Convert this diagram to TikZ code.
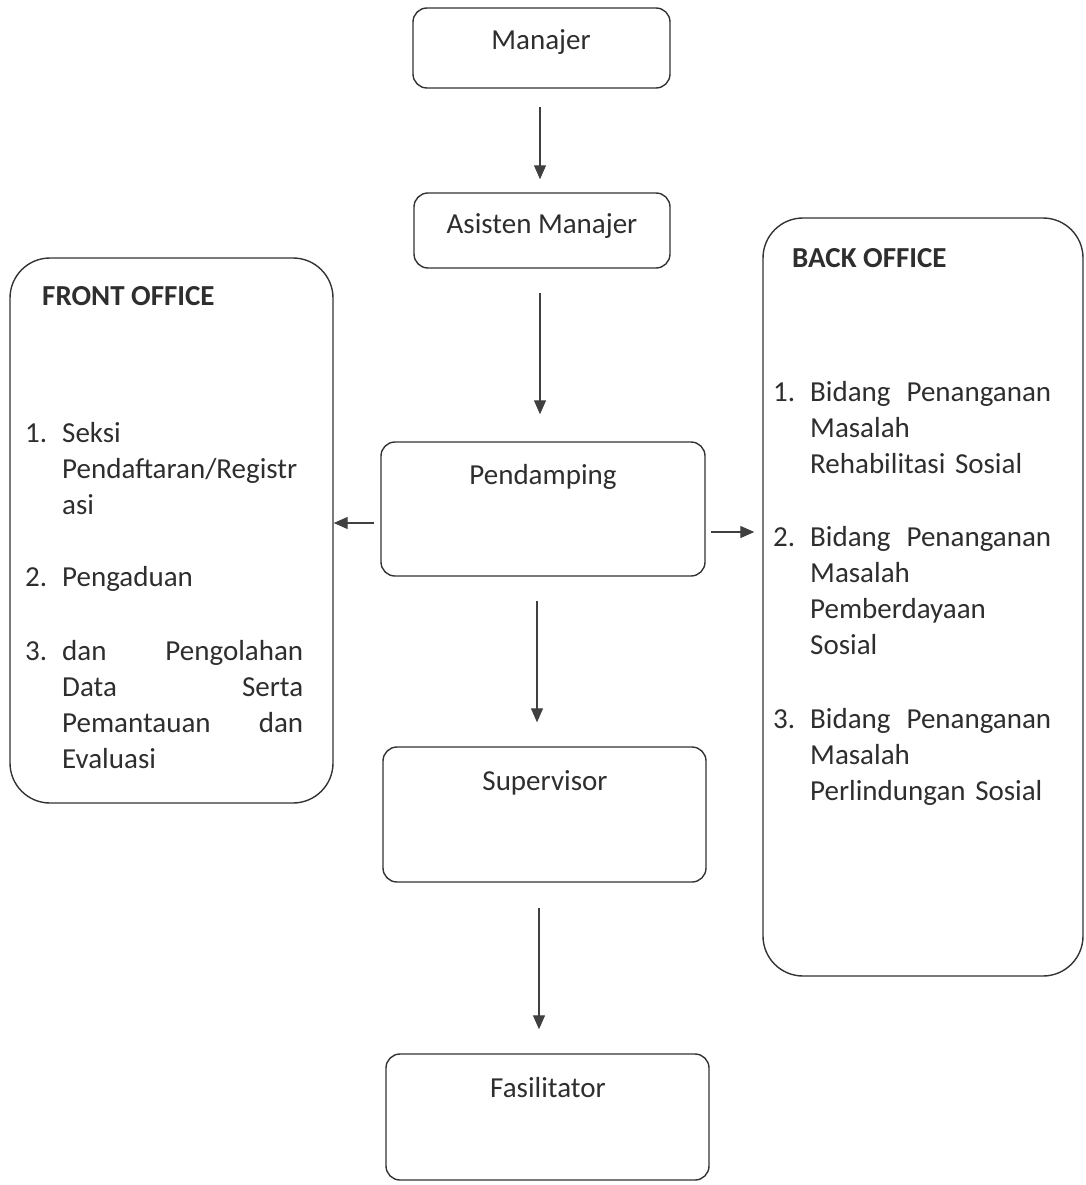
\documentclass[tikz,border=0pt]{standalone}
\usepackage{fontspec}
\setmainfont{Carlito}
\usetikzlibrary{arrows.meta}
\newcommand\jline[2]{\makebox[241pt]{#1\hfill #2}}
\begin{document}
\begin{tikzpicture}[x=1pt,y=-1pt,
  box/.style={draw=black!80, line width=1.4pt, rounded corners=14pt, inner sep=0pt},
  bigbox/.style={draw=black!80, line width=1.4pt, rounded corners=40pt, inner sep=0pt},
  txt/.style={font=\fontsize{29}{36}\selectfont, text=black!82, inner sep=0pt},
  ttl/.style={font=\fontsize{29}{36}\selectfont\bfseries, text=black!82, inner sep=0pt, anchor=base west},
  num/.style={txt, anchor=base west},
  item/.style={txt, anchor=base west, text width=245pt, align=left},
  arr/.style={draw=black!75, line width=1.2pt, -{Triangle[length=14pt,width=12pt]}}
]
\useasboundingbox (0,0) rectangle (1086,1185);

% central boxes
\node[box, minimum width=257pt, minimum height=80pt] (man) at (541.5,48) {};
\node[box, minimum width=256pt, minimum height=75pt] (asm) at (542,230.5) {};
\node[box, minimum width=324pt, minimum height=134pt] (pen) at (543,509) {};
\node[box, minimum width=323pt, minimum height=135pt] (sup) at (544.5,814.5) {};
\node[box, minimum width=323pt, minimum height=126pt] (fas) at (547.5,1117) {};

\node[txt, anchor=base] (manT) at (541,50) {Manajer};
\node[txt, anchor=base] (asmT) at (542,233) {Asisten Manajer};
\node[txt, anchor=base] (penT) at (543,484) {Pendamping};
\node[txt, anchor=base] (supT) at (545,790) {Supervisor};
\node[txt, anchor=base] (fasT) at (548,1097) {Fasilitator};

% side boxes
\node[bigbox, minimum width=323pt, minimum height=545pt] (fo) at (171.5,530.5) {};
\node[bigbox, minimum width=320pt, minimum height=758pt] (bo) at (923,597) {};

\node[ttl] (foT) at (42,305) {FRONT OFFICE};
\node[ttl] (boT) at (792,267) {BACK OFFICE};

\node[num] (fo1n) at (25,442) {1.};
\node[item] (fo1) at (62,442) {Seksi\\Pendaftaran/Registr\\asi};
\node[num] (fo2n) at (25,586) {2.};
\node[item] (fo2) at (62,586) {Pengaduan};
\node[num] (fo3n) at (25,660) {3.};
\node[item] (fo3) at (62,660) {\jline{dan}{Pengolahan}\\\jline{Data}{Serta}\\\jline{Pemantauan}{dan}\\Evaluasi};

\node[num] (bo1n) at (773,401) {1.};
\node[item] (bo1) at (810,401) {\jline{Bidang}{Penanganan}\\Masalah\\Rehabilitasi Sosial};
\node[num] (bo2n) at (773,546) {2.};
\node[item] (bo2) at (810,546) {\jline{Bidang}{Penanganan}\\Masalah\\Pemberdayaan\\Sosial};
\node[num] (bo3n) at (773,728) {3.};
\node[item] (bo3) at (810,728) {\jline{Bidang}{Penanganan}\\Masalah\\Perlindungan Sosial};

% connectors
\draw[arr, shorten <=18pt, shorten >=13pt] ([xshift=-1.5pt]man.south) -- ([xshift=-1.5pt]man.south |- asm.north);
\draw[arr, shorten <=24pt, shorten >=27pt] ([xshift=-2pt]asm.south) -- ([xshift=-2pt]asm.south |- pen.north);
\draw[arr, shorten <=24pt, shorten >=24pt] ([xshift=-6pt]pen.south) -- ([xshift=-6pt]pen.south |- sup.north);
\draw[arr, shorten <=25pt, shorten >=24pt] ([xshift=-5.5pt]sup.south) -- ([xshift=-5.5pt]sup.south |- fas.north);
\draw[arr, shorten <=6pt] ([yshift=-14pt]pen.west) -- ([yshift=-14pt]pen.west -| fo.east);
\draw[arr, shorten <=5pt, shorten >=8pt] ([yshift=-23pt]pen.east) -- ([yshift=-23pt]pen.east -| bo.west);
\end{tikzpicture}
\end{document}
